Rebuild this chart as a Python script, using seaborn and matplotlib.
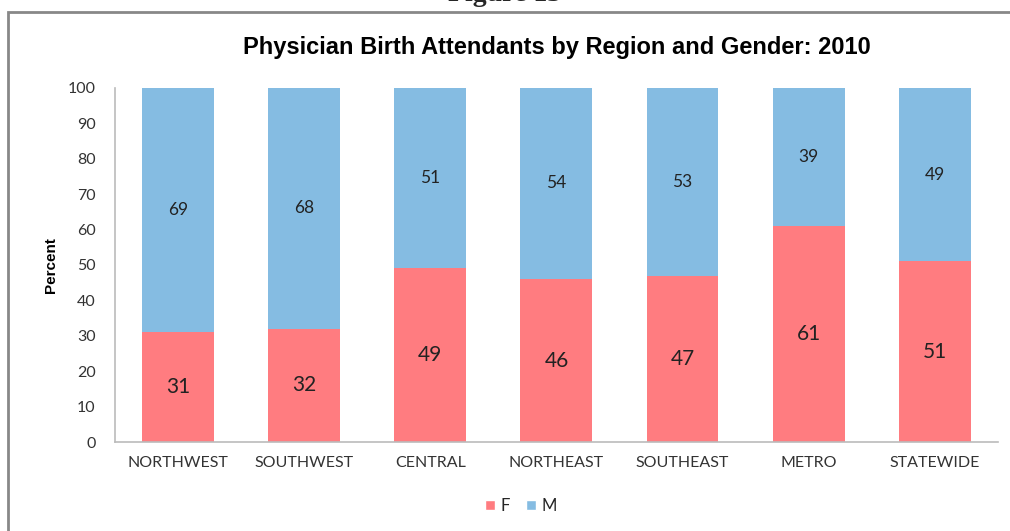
import matplotlib
matplotlib.use("Agg")
import matplotlib.pyplot as plt
import seaborn as sns
import pandas as pd
from matplotlib.patches import Patch, Rectangle

regions = ["NORTHWEST", "SOUTHWEST", "CENTRAL", "NORTHEAST", "SOUTHEAST", "METRO", "STATEWIDE"]
female = [31, 32, 49, 46, 47, 61, 51]
male = [69, 68, 51, 54, 53, 39, 49]
yticks = [0, 10, 20, 30, 40, 50, 60, 70, 80, 90, 100]

F_COLOR = "#FF7C80"
M_COLOR = "#85BCE2"

sns.set_theme(style="white")
plt.rcParams["font.family"] = ["Lato", "DejaVu Sans"]

df = pd.DataFrame({"region": regions, "F": female, "M": male})
df["total"] = df["F"] + df["M"]

fig = plt.figure(figsize=(10.10, 5.31), dpi=100)
ax = fig.add_axes([0.1139, 0.1676, 0.874, 0.667])

sns.barplot(data=df, x="region", y="total", color=M_COLOR, width=0.57,
            saturation=1, ax=ax, edgecolor="none")
sns.barplot(data=df, x="region", y="F", color=F_COLOR, width=0.57,
            saturation=1, ax=ax, edgecolor="none")

for i, (f, m) in enumerate(zip(female, male)):
    ax.text(i, f / 2, str(f), ha="center", va="center", fontsize=15, color="#222222")
    ax.text(i, f + m / 2, str(m), ha="center", va="center", fontsize=12.5, color="#222222")

ax.set_xlim(-0.5, 6.5)
ax.set_ylim(0, 100)
ax.set_yticks(yticks)
ax.set_yticklabels([str(t) for t in yticks], fontsize=11.5, color="#333333")
ax.tick_params(axis="x", labelsize=11.5, colors="#333333", length=0, pad=10)
ax.tick_params(axis="y", length=0, pad=14)
ax.set_xlabel("")
ax.set_ylabel("Percent", fontsize=11, fontweight="bold", labelpad=7, color="black",
              family=["Liberation Sans", "DejaVu Sans"])
for s in ["top", "right"]:
    ax.spines[s].set_visible(False)
for s in ["left", "bottom"]:
    ax.spines[s].set_color("#BBBBBB")
    ax.spines[s].set_linewidth(1.2)

ax.set_title("Physician Birth Attendants by Region and Gender: 2010",
             fontsize=17, fontweight="bold", pad=24, color="black",
             family=["Liberation Sans", "DejaVu Sans"])

handles = [Patch(facecolor=F_COLOR, label="F"), Patch(facecolor=M_COLOR, label="M")]
fig.legend(handles=handles, loc="center", bbox_to_anchor=(0.516, 0.047), ncol=2,
           frameon=False, fontsize=12, handlelength=0.6, handleheight=0.6,
           handletextpad=0.3, columnspacing=1.0)

# outer frame of the figure box
fig.patches.append(Rectangle((8 / 1010, -0.05), 1.2, 1 - 12 / 531 + 0.05,
                             transform=fig.transFigure, fill=False,
                             edgecolor="#888888", linewidth=2))

fig.text(0.5, 1 - 1 / 531, "Figure 13", ha="center", va="baseline", fontsize=20,
         fontweight="bold", family=["Liberation Serif", "DejaVu Serif"])

fig.savefig("out.png", dpi=100)
